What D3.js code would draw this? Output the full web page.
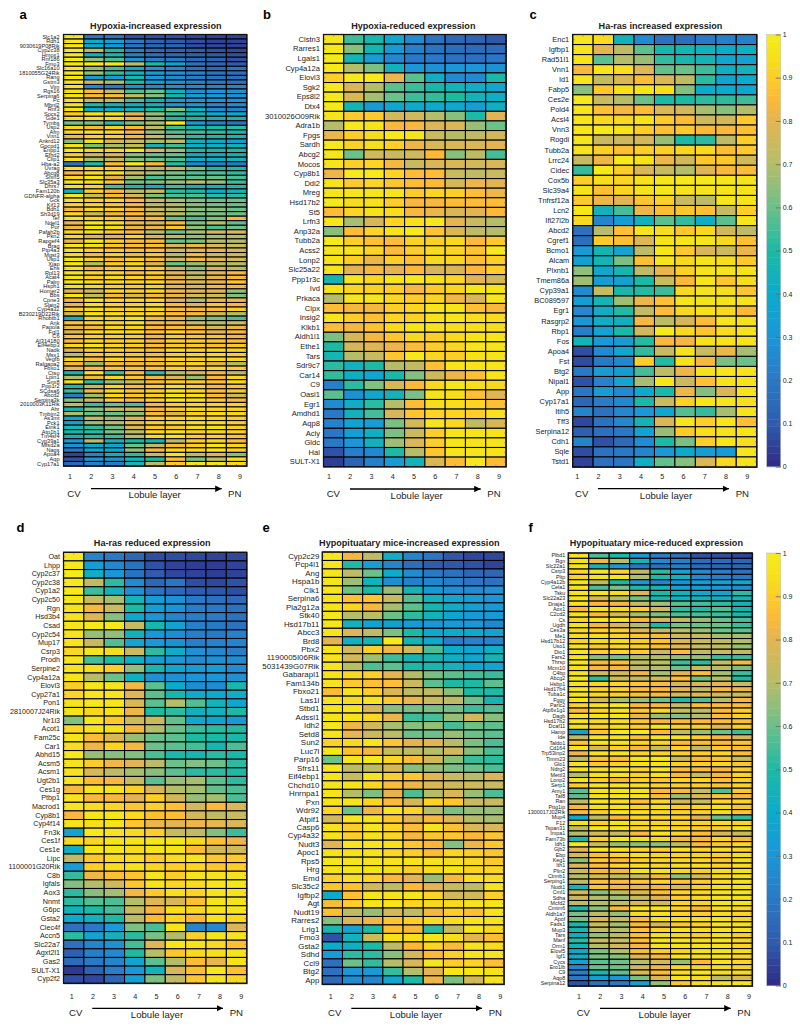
<!DOCTYPE html>
<html><head><meta charset="utf-8">
<script src="https://cdnjs.cloudflare.com/ajax/libs/d3/7.8.5/d3.min.js"></script>
<style>
html,body{margin:0;padding:0;background:#fff}
svg{display:block}
text{font-family:"Liberation Sans",Arial,sans-serif;fill:#222}
</style></head><body><svg id="chart" width="800" height="1032"></svg>
<script>
const layers=[1,2,3,4,5,6,7,8,9];
const colorbarTicks=[0,0.1,0.2,0.3,0.4,0.5,0.6,0.7,0.8,0.9,1];
const colorStops=[0,10,20,30,40,50,60,70,80,85,90,95,100];
const colorValues=["#2e2a85","#2f5cae","#2a79c6","#1b96d8","#0cabcc","#1cb9a5","#6cc08a","#b5bd68","#e3b552","#fdb838","#fdcd28","#f7e119","#f5ec1d"];

const genesA=["Slc1a2","Rdh1","9030619P08Rik","Cyp2c38","Hmox1","Rnf186","Fmo3","Slc16a10","1810055G24Rik","Rang","Gstm3","Vim","Rgs16","Serpina6","Pc","Mbnl2","Rnf3","Socs2","Gde1","Tymbs","Usp2","Afm","Vnn1","Ankrd12","Gpcpd1","Enpp1","Efhd2","Clip1","Hba-a2","Uvrag","Abcg8","Sfxn5","Slc35a3","Dhrs7","Fam120b","GDNFR-alpha","Gck","Kif13","Bdh1","Sh3d19","Tef","Ndel1","Por","Pafah2b","Pkn2","Rapgef4","Brag","Ptp4a3","Mgst3","Usp1","Xiap","Ehs","Rpl13","Acat4","Palm","Hsph1","Homer2","Bbs","Cpne3","Slain2","Cyp4a32","B230219D22Rik","Rhobtb1","Ank","Papola","Fgl1","C6","AI314180","Eif4ebp3","Nadk","Msx1","Vegfb","Ralgapa2","Fbxo1","Ctso","Lpin1","Snx8","Ppp1r2","SCdsa6","Abcd2","Serpina3k","2010003K11Rik","Ahr","Tmbim2","As3mt","Pck1","Etnk1","Atp1b1","Tm4sf4","Cyp39a1","Mfsd2a","Nags","Apoa4","Aqp","Cyp17a1"];
const valuesA=[[98,20,20,8,8,8,6,5,5],[98,40,36,20,12,10,7,5,5],[98,40,30,18,13,13,7,6,5],[98,72,50,22,15,12,10,8,6],[98,44,48,22,17,15,12,10,8],[98,66,56,28,22,20,14,12,8],[96,100,98,72,50,36,18,14,10],[98,66,55,40,30,26,17,15,18],[98,66,53,44,33,28,23,18,17],[97,34,34,48,30,26,21,18,16],[96,74,68,50,34,28,24,20,18],[98,26,20,28,26,28,26,24,24],[94,86,72,56,60,44,27,30,28],[95,84,86,74,64,48,35,31,28],[96,74,72,56,46,34,30,30,28],[96,50,44,42,44,32,30,26,28],[96,40,40,44,50,64,44,26,22],[88,95,95,80,66,54,46,40,40],[94,95,95,84,64,50,48,44,46],[62,62,52,62,68,98,32,22,18],[92,85,90,85,72,54,46,50,52],[92,95,92,84,66,56,54,52,48],[84,92,92,84,74,62,52,50,48],[64,96,78,74,68,72,44,40,34],[96,62,68,72,46,54,42,42,44],[98,92,92,96,78,66,50,48,50],[90,76,80,64,60,60,42,42,44],[94,68,72,64,60,56,42,42,46],[18,50,85,98,85,52,24,22,20],[95,94,92,74,70,72,62,50,50],[85,94,94,74,68,62,56,56,52],[92,96,80,68,56,60,58,60,56],[96,94,88,60,62,66,72,66,54],[96,92,56,50,42,54,46,44,50],[44,90,85,72,76,52,48,40,44],[97,74,84,78,62,56,56,52,52],[96,90,92,85,74,68,62,60,60],[92,92,88,85,72,70,64,62,60],[84,92,90,84,74,70,64,64,60],[92,74,82,85,76,70,64,62,60],[96,92,90,84,86,60,56,62,84],[82,98,94,82,78,85,62,70,58],[82,96,94,82,82,88,66,56,60],[92,94,88,84,70,60,68,76,78],[94,80,80,92,78,72,66,68,70],[82,98,90,86,86,60,62,70,70],[96,94,88,86,86,78,82,78,74],[96,92,88,86,86,76,80,80,76],[94,86,90,84,88,72,84,76,76],[96,90,86,90,85,76,84,80,76],[96,70,88,90,78,60,66,72,70],[96,85,90,92,90,74,64,76,70],[96,92,92,86,90,80,72,80,84],[96,90,94,92,88,80,74,80,84],[96,94,92,90,92,82,78,80,88],[96,94,92,90,92,82,80,84,84],[80,76,92,90,92,84,80,80,66],[96,72,84,78,84,80,76,74,62],[85,96,92,92,92,80,70,82,82],[82,96,92,92,94,86,78,88,84],[90,94,90,92,92,86,84,86,90],[78,96,94,92,92,86,84,76,70],[44,92,92,96,86,84,66,62,56],[88,92,92,95,84,84,74,70,76],[82,84,92,92,85,86,84,78,82],[78,92,94,92,86,90,86,80,84],[88,92,92,90,84,90,88,88,84],[86,92,90,90,84,90,90,88,86],[92,96,92,90,86,88,88,86,88],[80,90,90,88,86,92,90,92,90],[72,88,90,88,86,90,92,92,90],[92,86,92,88,88,92,90,92,92],[84,66,84,84,86,88,92,80,70],[82,86,88,88,88,92,90,94,90],[46,96,54,86,52,70,78,84,72],[70,84,92,88,84,78,66,84,92],[94,52,66,74,84,88,88,86,92],[50,74,92,86,90,96,92,85,88],[54,84,92,88,90,96,92,86,88],[20,66,92,88,90,96,94,85,74],[64,76,90,86,90,96,94,88,84],[72,54,60,56,84,90,92,92,90],[46,64,74,76,85,90,94,92,92],[70,60,60,64,84,80,90,94,92],[38,72,66,78,90,92,94,92,90],[38,66,70,84,90,94,94,94,90],[48,52,60,76,88,88,94,96,90],[48,52,62,72,92,94,90,92,90],[46,52,54,70,94,96,90,92,88],[34,72,46,48,46,72,90,92,86],[28,36,36,60,72,86,90,96,92],[20,38,40,66,84,92,92,96,90],[5,24,42,52,74,96,72,80,64],[8,28,28,46,50,86,62,72,94],[14,22,20,48,72,88,96,96,92]];

const genesB=["Clstn3","Rarres1","Lgals1","Cyp4a12a","Elovl3","Sgk2","Eps8l2","Dtx4","3010026O09Rik","Adra1b","Fpgs","Sardh","Abcg2","Mocos","Cyp8b1","Ddi2","Mreg","Hsd17b2","St5","Lrfn3","Anp32a","Tubb2a","Acss2","Lonp2","Slc25a22","Ppp1r3c","Ivd","Prkaca","Clpx","Insig2","Klkb1","Aldh1l1","Ethe1","Tars","Sdr9c7","Car14","C9","Oasl1","Egr1","Amdhd1","Aqp8","Acly","Gldc","Hal","SULT-X1"];
const valuesB=[[97,54,48,38,26,18,14,12,9],[98,64,46,32,22,18,16,15,15],[98,46,33,25,20,20,18,17,19],[98,70,62,44,30,28,30,30,28],[90,98,98,82,58,42,26,26,49],[98,78,70,58,54,48,45,42,38],[98,78,68,60,54,53,50,44,42],[98,46,32,38,40,40,38,34,42],[96,89,89,76,76,70,64,50,80],[70,98,96,84,84,78,78,66,60],[82,90,94,98,97,74,70,72,76],[98,91,94,90,82,78,78,78,80],[97,60,76,74,76,85,64,72,55],[96,90,92,83,74,78,78,76,78],[82,98,98,92,86,86,74,72,74],[96,89,92,88,86,85,76,82,80],[96,97,97,96,89,92,90,86,82],[98,94,95,90,84,84,86,86,86],[86,92,95,94,84,82,78,80,85],[97,68,77,92,95,98,80,74,70],[64,86,92,96,98,88,78,72,70],[98,90,87,86,91,91,93,85,89],[97,96,92,86,90,94,92,88,98],[96,90,82,90,87,93,92,87,90],[96,80,83,80,85,77,78,85,90],[46,97,93,97,98,95,92,80,76],[95,92,91,90,84,89,92,97,96],[70,97,97,93,90,92,83,78,97],[86,83,83,90,92,97,96,87,84],[97,90,87,92,91,96,97,94,94],[86,83,87,93,96,96,94,94,94],[62,77,83,88,93,90,93,95,96],[50,77,79,82,86,90,92,97,96],[47,70,74,88,98,92,90,95,96],[52,44,50,70,73,87,96,96,97],[53,42,37,49,63,75,82,87,96],[22,52,63,77,85,93,97,94,93],[58,28,38,44,62,96,94,87,80],[26,42,52,70,86,94,94,92,87],[20,44,55,77,88,92,92,90,96],[23,36,33,62,76,97,93,72,77],[19,34,42,62,74,90,96,96,96],[20,30,44,67,78,90,97,96,96],[8,22,25,50,70,88,97,97,96],[4,12,22,32,44,78,86,98,86]];

const genesC=["Enc1","Igfbp1","Rad51l1","Vnn1","Id1","Fabp5","Ces2e","Pold4","Acsl4","Vnn3","Rogdi","Tubb2a","Lrrc24","Cidec","Cox5b","Slc39a4","Tnfrsf12a","Lcn2","Ifi27l2b","Abcd2","Cgref1","Bcmo1","Alcam","Plxnb1","Tmem86a","Cyp39a1","BC089597","Egr1","Rasgrp2","Rbp1","Fos","Apoa4","Fst","Btg2","Nipal1","App","Cyp17a1","Itih5","Tff3","Serpina12","Cdh1","Sqle","Tstd1"];
const valuesC=[[97,94,44,26,17,16,20,22,22],[96,80,72,58,48,47,44,40,42],[96,58,70,66,53,48,46,37,35],[84,97,94,79,59,60,54,42,45],[97,73,78,86,78,72,52,36,40],[64,88,95,97,94,63,40,40,38],[98,74,70,60,50,50,52,52,54],[97,87,83,86,78,76,68,64,70],[97,93,93,96,89,86,75,76,89],[97,98,96,90,87,89,85,84,87],[97,75,75,76,66,50,52,72,90],[96,90,87,90,90,92,93,86,89],[74,82,98,95,82,76,88,88,76],[53,98,90,78,74,70,79,84,86],[90,94,92,95,97,98,98,97,96],[96,87,92,96,97,96,96,96,96],[89,82,80,88,91,74,71,97,96],[97,44,55,82,86,88,87,74,90],[93,24,33,44,58,53,42,58,97],[17,70,87,97,94,89,93,76,72],[16,89,87,79,96,97,97,93,87],[32,46,36,71,97,89,78,75,82],[35,46,62,87,97,93,96,94,89],[65,38,47,72,82,91,96,96,96],[67,34,35,50,74,85,97,88,94],[26,74,48,51,54,93,96,94,88],[34,46,67,82,87,97,96,96,96],[25,42,51,73,86,93,95,93,85],[30,42,43,84,71,77,86,97,95],[22,36,49,76,98,93,88,94,96],[45,31,33,51,84,83,95,96,96],[7,26,38,53,74,96,74,82,68],[7,20,25,90,51,96,84,62,60],[20,33,34,55,71,82,96,97,96],[8,23,37,68,97,75,87,96,96],[19,33,26,40,50,82,63,78,96],[14,21,25,49,74,91,97,97,95],[24,18,25,31,38,57,53,68,96],[6,18,25,46,78,97,90,97,87],[11,17,20,36,66,89,94,95,96],[24,8,15,27,50,62,90,97,94],[7,18,20,24,31,40,34,32,97],[5,17,19,42,59,64,78,93,96]];

const genesD=["Oat","Lhpp","Cyp2c37","Cyp2c38","Cyp1a2","Cyp2c50","Rgn","Hsd3b4","Csad","Cyp2c54","Mup17","Csrp3","Prodh","Serpine2","Cyp4a12a","Elovl3","Cyp27a1","Pon1","2810007J24Rik","Nr1i3","Acot1","Fam25c","Car1","Abhd15","Acsm5","Acsm1","Ugt2b1","Ces1g","Ptbp1","Macrod1","Cyp8b1","Cyp4f14","Fn3k","Ces1f","Ces1e","Lipc","1100001G20Rik","C8b","Igfals","Aox3","Nnmt","G6pc","Gsta2","Clec4f","Accn5","Slc22a7","Agxt2l1","Gas2","SULT-X1","Cyp2f2"];
const valuesD=[[98,24,20,14,7,7,6,5,6],[98,33,25,18,8,5,4,4,5],[98,42,30,18,10,6,5,4,5],[98,72,52,26,14,19,7,6,8],[98,54,44,28,18,14,10,9,7],[97,74,68,46,33,28,20,17,15],[96,83,74,50,33,29,21,20,18],[96,79,64,38,30,24,22,21,18],[97,98,98,74,48,35,22,20,18],[96,66,65,44,30,27,22,20,23],[96,74,57,37,31,28,22,23,24],[93,97,94,75,52,41,28,25,22],[97,55,50,42,34,30,27,28,27],[96,94,90,65,48,38,34,34,27],[96,70,60,42,28,28,30,30,28],[90,97,97,83,58,40,27,26,48],[92,97,97,79,58,48,41,40,42],[96,98,97,78,58,70,57,45,38],[95,92,95,82,50,52,43,44,50],[63,97,89,75,74,59,39,36,32],[93,96,95,84,70,60,54,52,51],[96,86,78,66,60,58,50,49,49],[94,82,92,83,60,58,55,47,56],[98,66,64,63,56,49,48,52,49],[96,90,83,80,72,60,63,60,52],[96,78,72,68,64,58,52,52,50],[97,86,84,74,58,66,68,58,52],[84,97,97,91,78,70,68,59,56],[96,84,84,80,90,76,66,68,56],[97,94,92,88,91,87,76,85,78],[84,97,97,93,87,86,76,72,74],[96,94,96,88,82,80,82,81,78],[36,98,96,93,90,74,72,63,54],[93,92,96,96,97,97,93,87,82],[41,97,97,94,97,96,86,76,76],[72,88,94,94,90,94,97,88,89],[33,90,94,95,92,90,92,88,90],[53,82,87,88,96,90,96,96,96],[63,70,76,88,96,92,94,97,97],[52,64,68,83,89,94,92,97,95],[52,57,56,70,79,78,87,96,96],[44,50,55,74,83,94,93,96,97],[40,44,50,72,86,92,86,96,93],[18,20,31,62,55,96,24,25,78],[52,36,44,52,62,69,90,96,96],[17,24,28,55,79,97,95,93,87],[11,22,25,50,71,88,93,94,96],[15,20,24,36,58,70,86,81,96],[3,12,21,30,45,77,87,98,87],[7,6,13,35,62,72,88,96,93]];

const genesE=["Cyp2c29","Pcp4l1","Ang","Hspa1b","Clk1","Serpina6","Pla2g12a","Stk40","Hsd17b11","Abcc3","Brd8","Pbx2","1190005I06Rik","5031439G07Rik","Gabarapl1","Fam134b","Fbxo21","Las1l","Stbd1","Adssl1","Idh2","Setd8","Sun2","Luc7l","Parp16","Sfrs11","Eif4ebp1","Chchd10","Hnrnpa1","Pxn","Wdr92","Atpif1","Casp6","Cyp4a32","Nudt3","Apoc1","Rps5","Hrg","Emd","Slc35c2","Igfbp2","Agt","Nudt19","Rarres2","Lrig1","Fmo3","Gsta2","Sdhd","Ccl9","Btg2","App"];
const valuesE=[[98,83,72,42,24,19,9,6,6],[97,50,33,24,16,10,9,8,5],[97,72,60,40,27,20,18,14,13],[97,67,44,27,22,24,21,19,18],[97,60,49,66,46,32,28,27,29],[96,87,88,74,57,44,37,34,30],[96,92,84,68,58,47,41,35,32],[97,70,71,60,52,44,36,32,31],[97,44,36,34,32,31,33,31,25],[96,78,72,62,50,39,40,39,36],[80,44,46,98,46,40,21,23,24],[96,76,90,83,76,56,40,36,42],[96,76,67,54,46,47,42,38,46],[97,70,56,58,50,48,45,38,37],[96,93,91,80,70,62,58,55,54],[96,89,87,87,75,58,50,50,58],[86,96,90,78,72,72,64,50,50],[96,94,97,89,82,74,72,60,46],[96,97,78,64,62,62,61,54,57],[96,96,93,81,54,55,66,76,64],[97,82,76,68,64,66,55,60,58],[96,81,75,71,60,60,66,60,58],[91,93,97,88,80,79,70,62,56],[97,87,83,74,72,70,76,64,56],[60,97,98,92,86,76,64,54,52],[97,72,72,78,64,66,62,60,56],[96,74,96,90,88,80,74,70,78],[97,96,92,86,82,78,75,76,74],[96,70,62,80,56,70,78,66,56],[96,96,92,86,76,91,88,74,74],[92,60,82,97,92,70,62,66,66],[76,97,96,89,80,84,78,70,68],[96,90,97,92,86,96,87,78,78],[95,90,96,92,84,88,88,85,88],[80,97,97,95,88,85,63,82,88],[96,95,96,92,90,86,92,90,88],[97,96,97,95,96,96,94,93,89],[96,97,96,94,90,94,96,92,92],[91,95,92,84,80,66,84,95,94],[88,87,76,72,85,80,74,72,96],[40,87,97,96,97,92,76,76,90],[86,90,96,96,92,93,93,96,96],[87,72,66,76,72,83,90,87,96],[64,78,82,88,90,94,94,97,96],[48,36,50,87,84,52,74,97,93],[8,44,76,95,94,96,94,80,86],[40,43,50,72,85,92,86,96,94],[32,52,52,64,76,85,91,96,96],[17,60,53,70,78,97,90,92,87],[17,30,32,53,70,80,97,97,95],[15,27,24,37,50,82,62,76,96]];

const genesF=["Plbd1","Rgn","Slc22a1","Csrp3","Pltp","Cyp4a12b","Cela1","Tsku","Slc22a23","Dnaja1","Aox1","C2cd2","Cs","Ugdh","Ces3a","Me1","Hsd17b12","Uso1","Dio1","Fars2","Thrsp","Mcm10","C4bp","Abcg2","Hsbp1","Hsd17b4","Tuba1c","Fggy","Parlc2","Atp6v1g1","Dagb","Hsd17b2","Dcaf11","Hamp","Ide","Taldo1","Cd164","Trp53inp2","Timm23","Glo1","Ndrg2","Mettl3","Lonp2","Serp1","Amy1","Taf8","Ran","Pttg1ip","1300017J02Rik","Mup4","F12","Tspan31","Impa1","Fam73b","Idh1","Gjb2","Ebp","Keg1","Ith1","Plin2","Ctnnb1","Serping1","Nudt1","Cml1","Sdha","Mcfd2","Cmtm6","Aldh1a7","Apof","Fads1","Mup3","Tars","Manf","Orm1","Elovl5","Igf1","Cycs","Ero1lb","C9","Aqp8","Serpina12"];
const valuesF=[[97,56,50,32,22,17,8,7,5],[95,83,70,46,26,22,16,15,13],[96,44,32,19,17,20,15,13,13],[92,97,92,72,52,36,26,21,17],[92,96,97,70,50,44,26,22,20],[96,72,48,30,24,28,34,36,37],[96,56,62,50,46,35,34,30,28],[96,96,94,78,50,45,39,36,52],[96,78,70,60,47,44,44,43,47],[96,85,83,74,68,58,55,53,46],[85,97,94,90,76,52,51,56,46],[95,85,78,68,62,56,55,54,48],[93,97,97,85,78,72,66,60,56],[96,84,78,70,50,62,60,60,54],[93,90,90,78,72,70,66,60,58],[94,94,92,88,86,76,74,68,68],[92,94,94,90,88,78,74,72,70],[96,88,92,90,86,80,74,72,66],[96,90,92,90,75,86,72,74,72],[96,64,62,70,70,66,66,54,54],[96,84,86,72,70,54,52,74,84],[95,84,84,72,70,60,75,70,62],[96,76,76,82,68,80,86,68,54],[97,52,75,72,76,86,60,70,50],[97,92,92,88,86,78,78,80,74],[97,92,92,86,85,80,72,84,82],[96,92,90,87,85,78,80,76,74],[97,76,68,66,60,50,56,70,84],[92,96,98,85,85,74,86,86,86],[86,92,96,88,92,74,72,85,90],[96,96,97,82,66,64,70,86,91],[97,93,94,88,84,85,86,86,87],[95,92,94,90,97,90,90,80,90],[34,87,97,98,85,72,66,60,54],[72,97,96,88,97,96,90,84,78],[88,97,96,92,92,86,86,85,88],[96,78,90,84,74,90,72,88,86],[82,96,96,92,92,90,90,92,86],[72,88,87,97,98,74,86,88,74],[96,88,90,95,96,90,90,92,88],[96,94,97,92,97,86,86,85,90],[70,96,97,92,96,85,74,84,92],[96,90,84,90,88,92,92,87,90],[90,96,96,94,92,90,90,88,92],[58,96,97,96,85,85,74,56,88],[58,96,97,97,86,66,78,88,84],[72,96,94,87,92,76,74,92,92],[85,95,96,92,96,90,92,95,88],[84,90,96,94,92,90,90,94,88],[40,72,85,92,92,90,80,60,53],[96,90,97,94,92,92,92,94,92],[72,96,96,92,94,92,90,90,96],[70,76,74,84,96,92,86,78,74],[48,90,97,94,92,84,85,92,84],[98,74,66,64,64,72,84,88,92],[80,97,95,92,90,95,92,94,92],[78,86,92,95,92,92,92,90,94],[64,88,85,90,92,92,92,88,94],[78,86,92,94,92,94,94,92,94],[74,85,84,96,96,92,90,94,95],[70,76,72,74,84,65,76,92,95],[72,87,86,88,92,88,90,94,95],[46,88,84,82,84,80,90,94,96],[76,64,72,78,86,92,92,96,96],[74,70,68,74,80,90,94,96,95],[72,70,72,78,76,92,92,96,95],[48,64,84,96,96,90,84,94,92],[62,72,66,94,96,92,90,94,92],[62,78,74,86,96,94,94,96,92],[48,74,68,84,78,88,90,96,94],[48,72,70,87,92,96,94,96,95],[42,66,72,87,96,92,90,95,90],[52,74,74,86,95,96,94,96,92],[46,70,76,84,96,96,96,96,92],[38,62,70,86,90,92,96,97,94],[42,62,64,78,84,96,94,95,92],[36,58,60,70,76,66,85,95,92],[25,60,60,76,82,92,92,94,92],[22,48,58,78,85,94,97,94,93],[20,34,30,62,78,96,94,72,78],[8,17,20,36,66,88,94,95,96]];

const color=d3.scaleLinear().domain(colorStops).range(colorValues).clamp(true);
const svg=d3.select("#chart");

const panels=[
 {id:"a",title:"Hypoxia-increased expression",genes:genesA,values:valuesA,l:63.5,r:246.7,t:34.5,b:466,fs:5.6,lp:4,tickX:[70,240],tickY:479,arrow:[91,221.7,488.7],cv:74,lob:154.7,pn:234.7,capY:[497,498,496.5],titleX:155.8,titleY:29,letterX:19.5,letterY:18.5},
 {id:"b",title:"Hypoxia-reduced expression",genes:genesB,values:valuesB,l:323.5,r:506,t:34.5,b:466.7,fs:7.6,lp:3.5,tickX:[329,499],tickY:479,arrow:[350,480.7,489],cv:333.3,lob:416.7,pn:494,capY:[497,498.5,496.5],titleX:413.3,titleY:29,letterX:263,letterY:18.5},
 {id:"c",title:"Ha-ras increased expression",genes:genesC,values:valuesC,l:572.7,r:756.7,t:34.5,b:467,fs:7.4,lp:3.5,tickX:[577.3,747.3],tickY:479,arrow:[598,729,488.7],cv:581.7,lob:666,pn:742.3,capY:[497,498.5,496.5],titleX:660.5,titleY:29,letterX:529.5,letterY:18.5},
 {id:"d",title:"Ha-ras reduced expression",genes:genesD,values:valuesD,l:63.5,r:246.7,t:552.3,b:983.3,fs:7.2,lp:3.5,tickX:[71.7,241.3],tickY:998.5,arrow:[92.3,223,1008.3],cv:75.7,lob:157,pn:236.3,capY:[1016,1017.5,1016],titleX:152.2,titleY:545.5,letterX:16.5,letterY:532},
 {id:"e",title:"Hypopituatary mice-increased expression",genes:genesE,values:valuesE,l:322.3,r:504,t:552,b:984.3,fs:7.9,lp:3,tickX:[330.7,500.3],tickY:998.5,arrow:[351.3,482,1008.3],cv:334.7,lob:416,pn:495.3,capY:[1016,1017.5,1016],titleX:409.3,titleY:545.5,letterX:262.5,letterY:532},
 {id:"f",title:"Hypopituatary mice-reduced expression",genes:genesF,values:valuesF,l:568.3,r:752.3,t:553,b:986,fs:5.4,lp:3,tickX:[579,749],tickY:998.5,arrow:[600,730.7,1008.3],cv:583.3,lob:664.7,pn:744,capY:[1016,1017.5,1016],titleX:656.3,titleY:545.5,letterX:528.5,letterY:532}
];

const defs=svg.append("defs");
defs.append("marker").attr("id","head").attr("viewBox","0 0 10 10").attr("refX",10).attr("refY",5)
  .attr("markerWidth",6.5).attr("markerHeight",6.5).attr("markerUnits","userSpaceOnUse").attr("orient","auto")
  .append("path").attr("d","M0,0L10,5L0,10z").attr("fill","#000");

panels.forEach(p=>{
  const x=d3.scaleBand().domain(layers).range([p.l,p.r]);
  const y=d3.scaleBand().domain(p.genes).range([p.t,p.b]);
  const g=svg.append("g").attr("class","panel-"+p.id);
  g.append("rect").attr("x",p.l).attr("y",p.t).attr("width",p.r-p.l+1).attr("height",p.b-p.t+1).attr("fill","#8a8a8a");
  const cells=p.values.flatMap((row,i)=>row.map((v,j)=>({gene:p.genes[i],layer:layers[j],v})));
  g.selectAll("rect.cell").data(cells).join("rect").attr("class","cell")
    .attr("x",d=>x(d.layer)).attr("y",d=>y(d.gene))
    .attr("width",x.bandwidth()).attr("height",y.bandwidth())
    .attr("fill",d=>color(d.v)).attr("stroke","#000").attr("stroke-width",1.05);
  g.append("rect").attr("x",p.l).attr("y",p.t).attr("width",p.r-p.l).attr("height",p.b-p.t)
    .attr("fill","none").attr("stroke","#111").attr("stroke-width",1.2);
  const styleTicks=s=>{s.select(".domain").remove();s.selectAll("line").attr("stroke","#555").attr("stroke-width",0.5);};
  g.append("g").attr("transform",`translate(${p.l},0)`)
    .call(d3.axisLeft(y).tickSize(-2).tickPadding(p.lp)).call(styleTicks)
    .call(s=>s.selectAll("text").attr("font-size",p.fs).style("font-family",'"Liberation Sans",Arial,sans-serif').attr("fill","#222"));
  g.append("g").attr("transform",`translate(${p.r},0)`).call(d3.axisRight(y).tickSize(-2).tickFormat("")).call(styleTicks);
  g.append("g").attr("transform",`translate(0,${p.t})`).call(d3.axisTop(x).tickSize(-2).tickFormat("")).call(styleTicks);
  g.append("g").attr("transform",`translate(0,${p.b})`).call(d3.axisBottom(x).tickSize(-2).tickFormat("")).call(styleTicks);
  const lab=d3.scalePoint().domain(layers).range(p.tickX);
  g.selectAll("text.layer").data(layers).join("text").attr("class","layer")
    .attr("x",d=>lab(d)).attr("y",p.tickY).attr("text-anchor","middle").attr("font-size",7.2).text(d=>d);
  g.append("line").attr("x1",p.arrow[0]).attr("x2",p.arrow[1]).attr("y1",p.arrow[2]).attr("y2",p.arrow[2])
    .attr("stroke","#000").attr("stroke-width",1.3).attr("marker-end","url(#head)");
  const cap=(tx,ty,t)=>g.append("text").attr("x",tx).attr("y",ty).attr("text-anchor","middle").attr("font-size",9.6).text(t);
  cap(p.cv,p.capY[0],"CV");cap(p.lob,p.capY[1],"Lobule layer");cap(p.pn,p.capY[2],"PN");
  g.append("text").attr("x",p.titleX).attr("y",p.titleY).attr("text-anchor","middle").attr("font-size",9.1).attr("font-weight",700).text(p.title);
  g.append("text").attr("x",p.letterX).attr("y",p.letterY).attr("font-size",13).attr("font-weight",700).style("fill","#000").text(p.id);
});

[[34.5,466.7],[553,985.6]].forEach(([t,b])=>{
  const cx0=766.7,cx1=780.7;
  const cs=d3.scaleLinear().domain([0,1]).range([b,t]);
  const g=svg.append("g");
  const n=64;
  g.selectAll("rect").data(d3.range(n)).join("rect")
    .attr("x",cx0).attr("width",cx1-cx0)
    .attr("y",i=>cs((i+1)/n)).attr("height",i=>cs(i/n)-cs((i+1)/n)+0.4)
    .attr("fill",i=>color((i+0.5)/n*100));
  g.append("rect").attr("x",cx0).attr("y",t).attr("width",cx1-cx0).attr("height",b-t).attr("fill","none").attr("stroke","#bdbdbd").attr("stroke-width",0.5);
  const ax=g.append("g").attr("transform",`translate(${cx1},0)`)
    .call(d3.axisRight(cs).tickValues(colorbarTicks).tickSize(-5).tickPadding(2).tickFormat(d3.format("~g")));
  ax.select(".domain").remove();
  ax.selectAll("line").attr("stroke","#666").attr("stroke-width",0.8);
  ax.selectAll("text").attr("font-size",7).style("font-family",'"Liberation Sans",Arial,sans-serif').attr("fill","#222");
});
</script></body></html>
